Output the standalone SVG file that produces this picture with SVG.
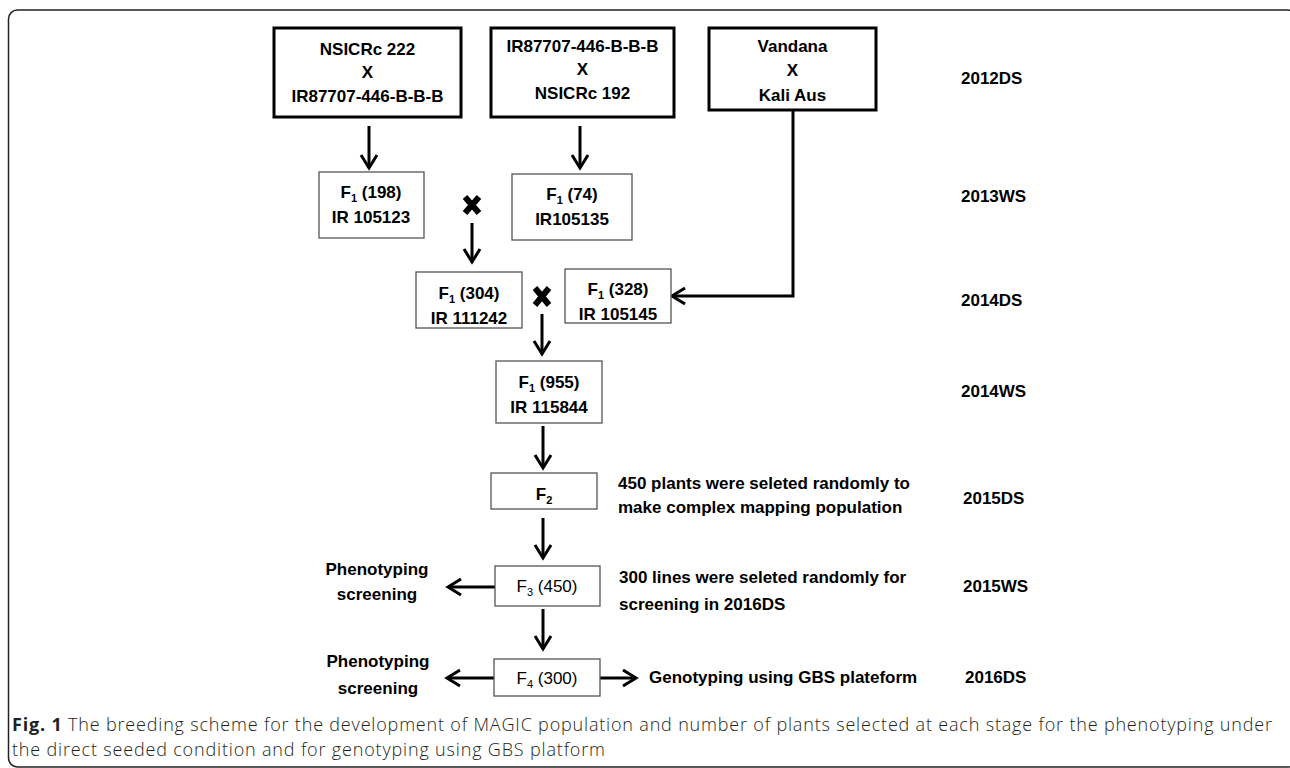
<svg xmlns="http://www.w3.org/2000/svg" width="1290" height="768" viewBox="0 0 1290 768">
<defs>
<style>
.t { font-family: "Liberation Sans", Arial, sans-serif; font-weight: bold; font-size: 17px; fill: #000; }
.c { text-anchor: middle; }
.n { font-weight: normal; }
.thick { fill: #fff; stroke: #000; stroke-width: 3; }
.thin { fill: #fff; stroke: #555; stroke-width: 1.3; }
.ln { fill: none; stroke: #000; stroke-width: 3; }
.cross { fill: none; stroke: #000; stroke-width: 6; }
.cap { font-family: "Open Sans", "Liberation Sans", sans-serif; font-size: 18px; fill: #231f20; font-weight: 300; }
</style>
<marker id="ah" markerUnits="userSpaceOnUse" viewBox="0 0 20 20" markerWidth="20" markerHeight="20" refX="17" refY="10" orient="auto">
<path d="M4,2 L17,10 L4,18" fill="none" stroke="#000" stroke-width="3"/>
</marker>
</defs>
<rect width="1290" height="768" fill="#fff"/>
<rect x="8.5" y="10" width="1288" height="757" rx="9" fill="none" stroke="#222" stroke-width="1.5"/>

<g id="connectors">
<line class="ln" x1="369" y1="126" x2="369" y2="168" marker-end="url(#ah)"/>
<line class="ln" x1="580" y1="126" x2="580" y2="168" marker-end="url(#ah)"/>
<line class="ln" x1="472" y1="223" x2="472" y2="262" marker-end="url(#ah)"/>
<polyline class="ln" points="793,110 793,296 672,296" marker-end="url(#ah)"/>
<line class="ln" x1="542" y1="314" x2="542" y2="354" marker-end="url(#ah)"/>
<line class="ln" x1="543" y1="426" x2="543" y2="468" marker-end="url(#ah)"/>
<line class="ln" x1="543" y1="518" x2="543" y2="558" marker-end="url(#ah)"/>
<line class="ln" x1="543" y1="609" x2="543" y2="649" marker-end="url(#ah)"/>
<line class="ln" x1="495" y1="587" x2="448" y2="587" marker-end="url(#ah)"/>
<line class="ln" x1="494" y1="678" x2="447" y2="678" marker-end="url(#ah)"/>
<line class="ln" x1="600" y1="678" x2="636" y2="678" marker-end="url(#ah)"/>
<path class="cross" d="M465,197 L479,213 M479,197 L465,213"/>
<path class="cross" d="M535,288 L549,305 M549,288 L535,305"/>
</g>

<g id="cross1">
<rect class="thick" x="274" y="28" width="187" height="89"/>
<text class="t c" x="367.5" y="55">NSICRc 222</text>
<text class="t c" x="367.5" y="78">X</text>
<text class="t c" x="367.5" y="102">IR87707-446-B-B-B</text>
</g>
<g id="cross2">
<rect class="thick" x="491" y="28" width="183" height="89"/>
<text class="t c" x="582.5" y="52">IR87707-446-B-B-B</text>
<text class="t c" x="582.5" y="75">X</text>
<text class="t c" x="582.5" y="99">NSICRc 192</text>
</g>
<g id="cross3">
<rect class="thick" x="709" y="28" width="167" height="82"/>
<text class="t c" x="792.5" y="52">Vandana</text>
<text class="t c" x="792.5" y="76">X</text>
<text class="t c" x="792.5" y="101">Kali Aus</text>
</g>

<g id="f1_198">
<rect class="thin" x="319" y="172" width="105" height="66"/>
<text class="t c" x="371" y="198">F<tspan font-size="11" dy="4">1</tspan><tspan dy="-4"> (198)</tspan></text>
<text class="t c" x="371" y="223">IR 105123</text>
</g>
<g id="f1_74">
<rect class="thin" x="512" y="174" width="120" height="66"/>
<text class="t c" x="572" y="200">F<tspan font-size="11" dy="4">1</tspan><tspan dy="-4"> (74)</tspan></text>
<text class="t c" x="572" y="225">IR105135</text>
</g>
<g id="f1_304">
<rect class="thin" x="416" y="272" width="106" height="56"/>
<text class="t c" x="469" y="299">F<tspan font-size="11" dy="4">1</tspan><tspan dy="-4"> (304)</tspan></text>
<text class="t c" x="469" y="324">IR 111242</text>
</g>
<g id="f1_328">
<rect class="thin" x="565" y="269" width="106" height="54"/>
<text class="t c" x="618" y="295">F<tspan font-size="11" dy="4">1</tspan><tspan dy="-4"> (328)</tspan></text>
<text class="t c" x="618" y="320">IR 105145</text>
</g>
<g id="f1_955">
<rect class="thin" x="496" y="361" width="106" height="62"/>
<text class="t c" x="549" y="388">F<tspan font-size="11" dy="4">1</tspan><tspan dy="-4"> (955)</tspan></text>
<text class="t c" x="549" y="413">IR 115844</text>
</g>
<g id="f2">
<rect class="thin" x="491" y="473" width="106" height="36"/>
<text class="t c" x="544" y="500">F<tspan font-size="11" dy="4">2</tspan></text>
</g>
<g id="f3">
<rect class="thin" x="495" y="566" width="105" height="40"/>
<text class="t c n" x="547" y="592">F<tspan font-size="11" dy="4">3</tspan><tspan dy="-4"> (450)</tspan></text>
</g>
<g id="f4">
<rect class="thin" x="494" y="659" width="106" height="37"/>
<text class="t c n" x="547" y="684">F<tspan font-size="11" dy="4">4</tspan><tspan dy="-4"> (300)</tspan></text>
</g>

<g id="notes">
<text class="t" x="618" y="489">450 plants were seleted randomly to</text>
<text class="t" x="618" y="513">make complex mapping population</text>
<text class="t" x="619" y="583">300 lines were seleted randomly for</text>
<text class="t" x="619" y="610">screening in 2016DS</text>
<text class="t c" x="377" y="575">Phenotyping</text>
<text class="t c" x="377" y="600">screening</text>
<text class="t c" x="378" y="667">Phenotyping</text>
<text class="t c" x="378" y="694">screening</text>
<text class="t" x="649" y="683">Genotyping using GBS plateform</text>
</g>

<g id="seasons">
<text class="t" x="961" y="84">2012DS</text>
<text class="t" x="961" y="202">2013WS</text>
<text class="t" x="961" y="306">2014DS</text>
<text class="t" x="961" y="397">2014WS</text>
<text class="t" x="963" y="504">2015DS</text>
<text class="t" x="963" y="592">2015WS</text>
<text class="t" x="965" y="683">2016DS</text>
</g>

<g id="caption">
<text class="cap" x="12" y="731" textLength="1260" lengthAdjust="spacing"><tspan font-weight="bold">Fig. 1</tspan> The breeding scheme for the development of MAGIC population and number of plants selected at each stage for the phenotyping under</text>
<text class="cap" x="12" y="756" textLength="593" lengthAdjust="spacing">the direct seeded condition and for genotyping using GBS platform</text>
</g>
</svg>
